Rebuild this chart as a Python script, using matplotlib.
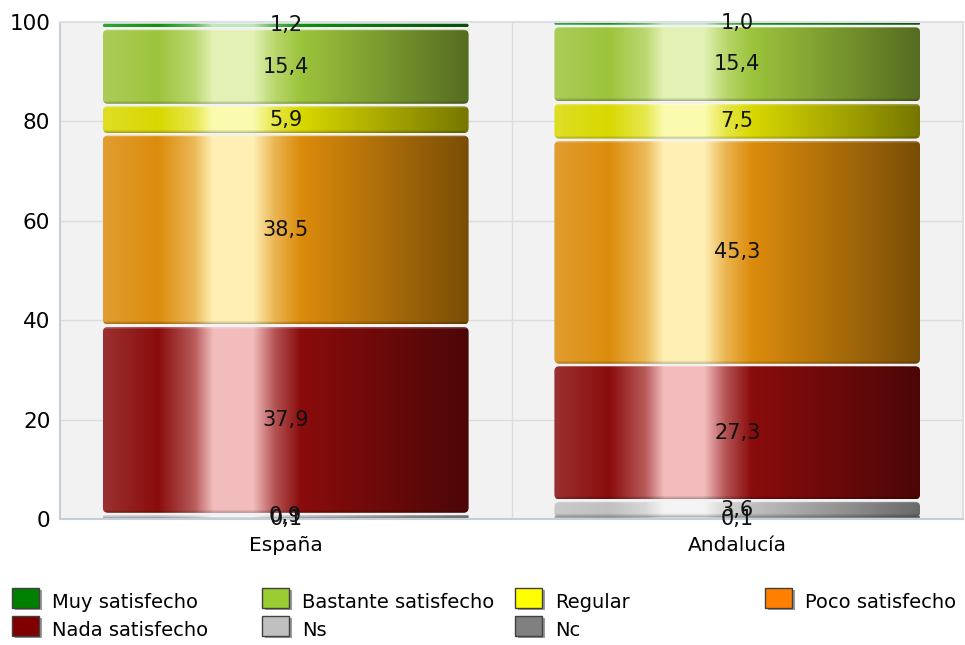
import numpy as np
import matplotlib
matplotlib.use("Agg")
import matplotlib.pyplot as plt
from matplotlib.patches import FancyBboxPatch, Rectangle
from matplotlib.colors import to_rgb

# datos (porcentaje)
categorias = ["España", "Andalucía"]
series = ["Nc", "Ns", "Nada satisfecho", "Poco satisfecho", "Regular",
          "Bastante satisfecho", "Muy satisfecho"]
nc = [0.1, 0.1]
ns = [0.9, 3.6]
nada = [37.9, 27.3]
poco = [38.5, 45.3]
regular = [5.9, 7.5]
bastante = [15.4, 15.4]
muy = [1.2, 1.0]
valores = [nc, ns, nada, poco, regular, bastante, muy]
etiquetas_y = [0, 20, 40, 60, 80, 100]

# colores de la leyenda y colores base de las barras
col_leyenda = {"Muy satisfecho": "#008000", "Bastante satisfecho": "#9acd32",
               "Regular": "#ffff00", "Poco satisfecho": "#ff8000",
               "Nada satisfecho": "#800000", "Ns": "#c0c0c0", "Nc": "#808080"}
col_barra = {"Muy satisfecho": "#129012", "Bastante satisfecho": "#9cc43c",
             "Regular": "#d8d800", "Poco satisfecho": "#dc8c0c",
             "Nada satisfecho": "#8a0c0c", "Ns": "#c0c0c0", "Nc": "#808080"}
col_brillo = {"Muy satisfecho": "#bfe8bf", "Bastante satisfecho": "#e2f2b4",
              "Regular": "#fbfbb0", "Poco satisfecho": "#fff0b4",
              "Nada satisfecho": "#f2bcbc", "Ns": "#f4f4f4", "Nc": "#d0d0d0"}
orden_leyenda = [["Muy satisfecho", "Bastante satisfecho", "Regular", "Poco satisfecho"],
                 ["Nada satisfecho", "Ns", "Nc"]]

W, H = 965, 645


def mezcla(a, b, t):
    a, b = np.array(to_rgb(a)), np.array(to_rgb(b))
    return a * (1 - t) + b * t


def degradado(base, brillo, filas, n=400):
    base = np.array(to_rgb(base))
    izq = mezcla(base, "white", 0.15)
    osc = base * 0.55
    paradas = [(0.0, izq), (0.15, base), (0.25, mezcla(base, brillo, 0.45)),
               (0.30, np.array(to_rgb(brillo))), (0.41, np.array(to_rgb(brillo))),
               (0.47, mezcla(base, brillo, 0.4)), (0.54, base), (1.0, osc)]
    t = np.linspace(0, 1, n)
    xs = [p[0] for p in paradas]
    fila = np.zeros((n, 3))
    for c in range(3):
        fila[:, c] = np.interp(t, xs, [p[1][c] for p in paradas])
    img = np.repeat(fila[None, :, :], filas, axis=0)
    # borde superior brillante y borde inferior oscuro
    if filas >= 6:
        img[0] = img[0] * 0.75 + 0.25
        img[1] = img[1] * 0.88 + 0.12
        img[-1] *= 0.75
        img[-2] *= 0.85
        img[-3] *= 0.93
    return np.clip(img, 0, 1)


fig = plt.figure(figsize=(W / 100, H / 100), dpi=100)
ax = fig.add_axes([60 / W, 1 - 519 / H, 903 / W, 497 / H])
ax.set_facecolor("#f2f2f2")

for y in etiquetas_y[1:-1]:
    ax.axhline(y, color="#dcdcdc", lw=1, zorder=0)
ax.axvline(0.5, color="#dcdcdc", lw=1, zorder=0)

for s in ["left", "bottom"]:
    ax.spines[s].set_color("#c5ced9")
    ax.spines[s].set_linewidth(1.5)
for s in ["top", "right"]:
    ax.spines[s].set_color("#dcdfe4")
    ax.spines[s].set_linewidth(1.5)

ax.set_yticks(etiquetas_y)
ax.set_yticklabels([str(v) for v in etiquetas_y], fontsize=15.5)
ax.set_xticks(range(len(categorias)))
ax.set_xticklabels(categorias, fontsize=14.5)
ax.tick_params(axis="y", length=0, pad=7, colors="black")
ax.tick_params(axis="x", length=0, pad=12, colors="black")

ancho = 0.81
px_x = 903 / 2.0        # pixeles por unidad x
px_y = 497 / 100.0      # pixeles por unidad y
aspecto = px_x / px_y
hueco = 0.25

for i, cat in enumerate(categorias):
    abajo = 0.0
    for nombre, vals in zip(series, valores):
        v = vals[i]
        y0 = abajo + hueco
        alto = max(v - 2 * hueco, 0.3)
        x0 = i - ancho / 2
        radio_px = min(5.0, alto * px_y / 2)
        caja = FancyBboxPatch((x0, y0), ancho, alto,
                              boxstyle="round,pad=0,rounding_size=%f" % (radio_px / px_x),
                              mutation_aspect=aspecto, facecolor="none",
                              edgecolor="none", zorder=2)
        ax.add_patch(caja)
        filas = max(int(round(alto * px_y)), 1)
        im = ax.imshow(degradado(col_barra[nombre], col_brillo[nombre], filas),
                       extent=[x0, x0 + ancho, y0, y0 + alto], aspect="auto",
                       zorder=2, interpolation="bilinear")
        im.set_clip_path(caja)
        ax.text(i, abajo + v / 2, ("%.1f" % v).replace(".", ","),
                ha="center", va="center", fontsize=15, color="#111111", zorder=5)
        abajo += v

ax.set_aspect("auto")
ax.set_xlim(-0.5, 1.5)
ax.set_ylim(0, 100)

# leyenda
col_x = [12, 262, 515, 765]
fila_y = [598, 626]
for f, fila in enumerate(orden_leyenda):
    for c, nombre in enumerate(fila):
        x, y = col_x[c], fila_y[f]
        fig.add_artist(Rectangle(((x + 3) / W, 1 - (y + 12) / H), 27 / W, 20 / H,
                                 transform=fig.transFigure, facecolor="#9a9a9a",
                                 edgecolor="none"))
        fig.add_artist(Rectangle((x / W, 1 - (y + 10) / H), 27 / W, 20 / H,
                                 transform=fig.transFigure,
                                 facecolor=col_leyenda[nombre],
                                 edgecolor="#404040", lw=1))
        fig.text((x + 40) / W, 1 - (y + 5) / H, nombre, fontsize=14,
                 va="center", ha="left")

fig.savefig("out.png", dpi=100)
